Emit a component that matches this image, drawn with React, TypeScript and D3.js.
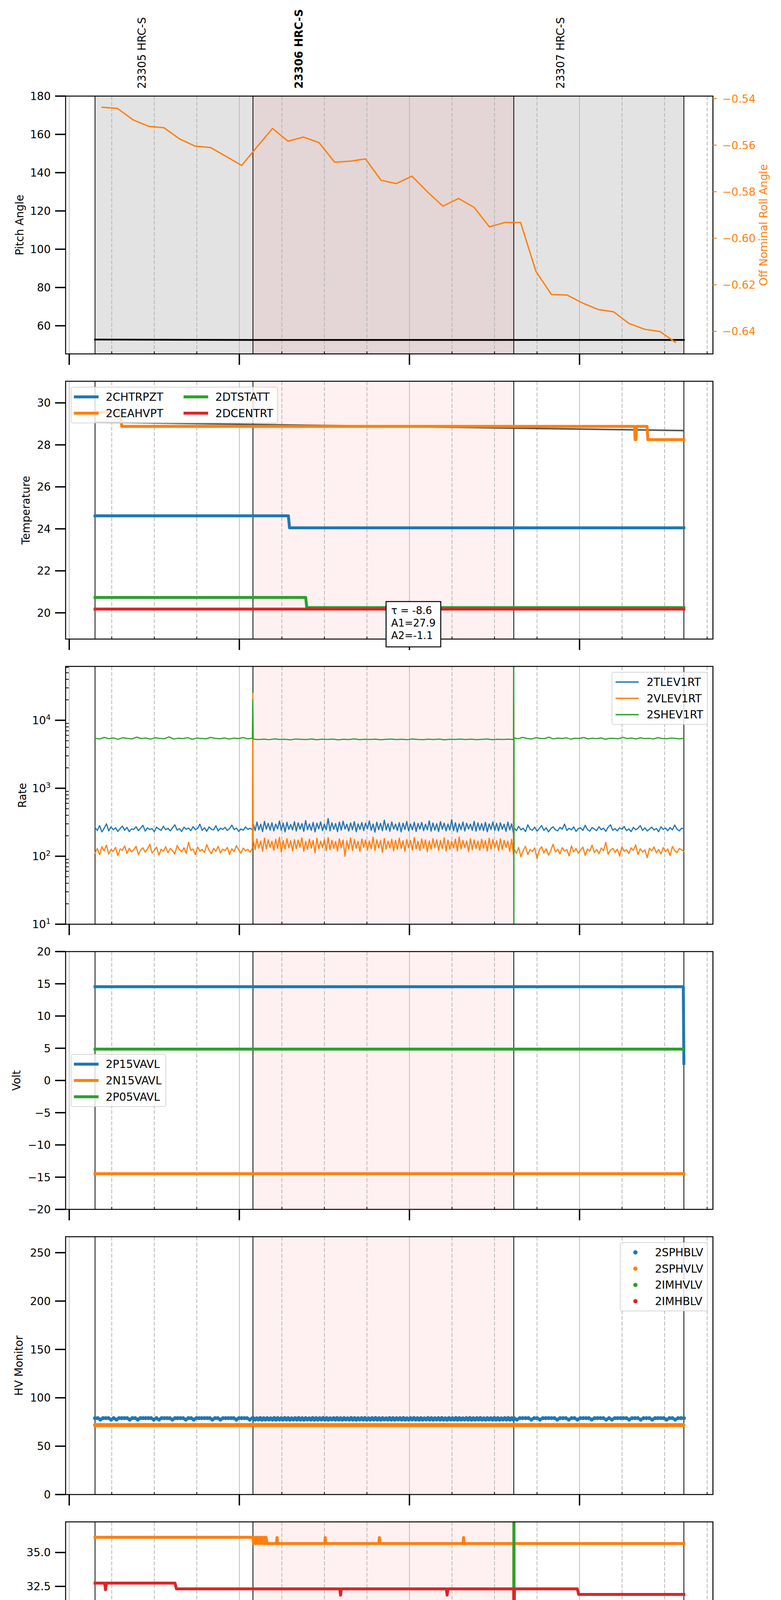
import React from "react";
import * as d3 from "d3";

// ================= DATA =================
const obsNames = ["23305 HRC-S", "23306 HRC-S", "23307 HRC-S"];
const obsBold = [false, true, false];
const obsLabelMin = [25.6, 81.0, 173.3];
const obsEdgesMin = [9.1, 64.8, 156.8, 216.8];
const focusSpanMin = [64.8, 156.8];

// Panel 1: pitch / roll
const pitchMin = [9.1, 64.8, 216.8];
const pitchVal = [52.8, 52.6, 52.6];
const rollMin = [11.6, 17.0, 22.5, 28.0, 33.4, 38.9, 44.4, 49.8, 55.3, 60.8, 66.2, 71.7, 77.2, 82.6, 88.1, 93.6, 99.0, 104.5, 110.0, 115.4, 120.9, 126.4, 131.8, 137.3, 142.8, 148.2, 153.7, 159.2, 164.6, 170.1, 175.6, 181.0, 186.5, 192.0, 197.4, 202.9, 208.4, 213.8];
const rollVal = [-0.5437, -0.5442, -0.5491, -0.5519, -0.5525, -0.5573, -0.5604, -0.561, -0.5648, -0.5687, -0.5608, -0.5528, -0.5583, -0.5565, -0.5589, -0.5673, -0.5669, -0.5659, -0.5751, -0.5765, -0.5733, -0.5801, -0.5862, -0.5829, -0.5867, -0.5951, -0.5932, -0.5932, -0.6142, -0.6242, -0.6244, -0.6278, -0.6306, -0.6316, -0.6366, -0.6391, -0.6401, -0.6447];
const pitchTicks = [60, 80, 100, 120, 140, 160, 180];
const rollTicks = [-0.64, -0.62, -0.6, -0.58, -0.56, -0.54];

// Panel 2: temperature
const tempNames = ["2CHTRPZT", "2CEAHVPT", "2DTSTATT", "2DCENTRT"];
const tBlueMin = [9.1, 77.3, 77.7, 216.8];
const tBlueVal = [24.62, 24.62, 24.05, 24.05];
const tOrangeMin = [9.1, 18.1, 18.5, 199.4, 199.6, 199.9, 200.1, 203.8, 204.1, 216.8];
const tOrangeVal = [29.55, 29.55, 28.88, 28.88, 28.25, 28.25, 28.88, 28.88, 28.25, 28.25];
const tGreenMin = [9.1, 83.4, 83.8, 216.8];
const tGreenVal = [20.73, 20.73, 20.25, 20.25];
const tRedMin = [9.1, 216.8];
const tRedVal = [20.18, 20.18];
const tModelMin = [9.1, 216.8];
const tModelVal = [29.08, 28.68];
const tempTicks = [20, 22, 24, 26, 28, 30];
const fitText = ["τ = -8.6", "A1=27.9", "A2=-1.1"];
const fitBoxMin = 121.4;

// Panel 3: rates
const rateNames = ["2TLEV1RT", "2VLEV1RT", "2SHEV1RT"];
const rateBlueA = [265, 240, 282, 228, 258, 300, 236, 270, 245, 262, 232, 255, 278, 241, 266, 230, 252, 248, 271, 238, 259, 285, 234, 262, 247, 256, 229, 268, 252, 240, 276, 245, 258, 236, 263, 290, 242, 255, 231, 268, 249, 260, 238, 272, 245, 257, 296, 240, 262, 233, 270, 250, 244, 281, 236, 258, 248, 266, 239, 255, 287, 246, 260, 232, 252, 241, 270, 248, 258, 244];
const rateBlueB = [300, 238, 318, 245, 296, 230, 325, 250, 305, 242, 312, 236, 298, 252, 330, 240, 308, 228, 316, 248, 294, 244, 322, 235, 310, 250, 302, 232, 335, 246, 299, 240, 315, 228, 306, 253, 320, 238, 297, 245, 360, 236, 311, 249, 303, 230, 318, 242, 328, 251, 296, 234, 309, 245, 323, 229, 300, 248, 314, 238, 306, 252, 331, 240, 298, 226, 317, 246, 305, 237, 340, 244, 301, 233, 320, 250, 297, 239, 312, 228, 308, 247, 325, 236, 299, 244, 318, 231, 304, 250, 315, 238, 296, 245, 332, 234, 309, 242, 301, 230, 322, 249, 307, 236, 298, 244, 345, 238, 311, 227, 300, 246, 319, 235, 306, 251, 297, 240, 326, 233, 310, 243, 302, 238, 316, 229, 299, 247, 320, 240, 305, 236, 311, 249, 296, 232, 318, 244, 300, 215];
const rateBlueC = [262, 238, 275, 244, 258, 230, 290, 250, 241, 268, 235, 256, 283, 240, 262, 228, 254, 271, 245, 236, 266, 250, 297, 239, 258, 244, 270, 232, 255, 262, 240, 286, 247, 234, 264, 251, 238, 272, 245, 259, 232, 268, 290, 241, 255, 236, 262, 249, 274, 238, 253, 230, 266, 245, 258, 282, 240, 262, 235, 250, 268, 243, 256, 229, 271, 248, 260, 237, 265, 244, 288, 250, 236, 258, 252];
const rateOrangeA = [112, 130, 105, 138, 120, 145, 108, 126, 118, 135, 102, 128, 122, 142, 110, 131, 116, 125, 140, 106, 124, 133, 115, 128, 150, 112, 122, 136, 104, 127, 119, 138, 113, 130, 121, 108, 144, 125, 117, 133, 110, 160, 122, 128, 105, 137, 119, 126, 114, 148, 123, 109, 131, 118, 140, 112, 127, 121, 135, 106, 129, 117, 143, 124, 111, 132, 120, 126, 115, 130];
const rateOrangeB = [172, 125, 180, 132, 168, 118, 185, 128, 175, 135, 166, 122, 178, 130, 190, 115, 170, 127, 182, 133, 169, 120, 176, 129, 173, 136, 187, 118, 165, 126, 179, 131, 171, 112, 184, 128, 167, 134, 176, 121, 188, 125, 172, 130, 165, 119, 181, 133, 174, 100, 169, 128, 186, 122, 177, 131, 166, 117, 180, 135, 173, 124, 168, 129, 191, 121, 175, 133, 170, 114, 183, 127, 167, 132, 178, 120, 172, 126, 185, 130, 169, 118, 176, 134, 171, 123, 189, 128, 166, 121, 180, 131, 174, 116, 168, 127, 182, 133, 175, 122, 170, 129, 187, 119, 173, 126, 165, 132, 179, 120, 192, 128, 171, 134, 168, 117, 181, 125, 174, 130, 167, 122, 178, 131, 170, 119, 184, 127, 176, 133, 169, 121, 180, 126, 172, 135, 166, 118, 178, 105];
const rateOrangeC = [128, 110, 135, 98, 122, 140, 106, 126, 117, 133, 92, 124, 138, 112, 129, 104, 121, 150, 115, 127, 108, 134, 119, 125, 101, 142, 116, 130, 111, 124, 136, 103, 128, 119, 145, 113, 126, 109, 132, 121, 160, 107, 123, 131, 114, 127, 100, 138, 118, 125, 110, 133, 122, 147, 106, 129, 115, 124, 95, 131, 120, 137, 112, 126, 108, 134, 117, 128, 102, 139, 121, 113, 130, 124, 118];
const rateGreenA = [5450, 5300, 5600, 5350, 5500, 5250, 5550, 5400, 5320, 5650, 5380, 5480, 5280, 5520, 5420, 5350, 5700, 5300, 5460, 5380, 5550, 5260, 5480, 5400, 5330, 5600, 5420, 5350, 5500, 5290, 5470, 5380, 5560, 5320, 5430];
const rateGreenB = [5300, 5200, 5280, 5180, 5320, 5220, 5260, 5150, 5300, 5240, 5200, 5310, 5170, 5270, 5230, 5290, 5160, 5250, 5210, 5330, 5190, 5260, 5220, 5280, 5170, 5240, 5300, 5200, 5260, 5180, 5310, 5230, 5190, 5270, 5210, 5290, 5160, 5250, 5220, 5300, 5200, 5270, 5180, 5240, 5310, 5190, 5260, 5220, 5280, 5200];
const rateGreenC = [5500, 5350, 5600, 5400, 5300, 5550, 5420, 5380, 5650, 5320, 5470, 5390, 5520, 5280, 5450, 5400, 5580, 5330, 5460, 5370, 5500, 5260, 5440, 5410, 5350, 5600, 5390, 5470, 5310, 5520, 5380, 5430, 5300, 5560, 5400, 5350, 5480, 5420, 5330, 5450];
const rateSpikeMin = [64.75, 156.8];
const rateSpikeOrange = [25000, 18000];
const rateSpikeGreen = [20000, 1e6];
const rateGreenDropVal = 1;
const rateMajor = [10, 100, 1000, 10000];

// Panel 4: volt
const voltNames = ["2P15VAVL", "2N15VAVL", "2P05VAVL"];
const vBlueMin = [9.1, 216.6, 216.8];
const vBlueVal = [14.55, 14.55, 2.65];
const vOrangeMin = [9.1, 216.8];
const vOrangeVal = [-14.47, -14.47];
const vGreenMin = [9.1, 216.8];
const vGreenVal = [4.87, 4.87];
const voltTicks = [-20, -15, -10, -5, 0, 5, 10, 15, 20];

// Panel 5: HV monitor
const hvNames = ["2SPHBLV", "2SPHVLV", "2IMHVLV", "2IMHBLV"];
const hvBlueA = [79, 79, 77.5, 79, 79, 79, 77.5, 79, 77.5, 79, 79, 79, 79, 77.5, 79, 79, 77.5, 79, 79, 79, 79, 79, 77.5, 79, 77.5, 79, 79, 79, 79, 77.5, 79, 79, 79, 79, 77.5, 79, 79, 77.5, 79, 79, 79, 79, 79, 79, 77.5, 79, 79, 77.5, 79, 79, 79, 79, 79, 77.5, 79, 79, 79, 79, 77.5, 79];
const hvBlueB = [79, 77.5, 78.8, 77.6, 79.1, 77.4, 78.9, 77.5, 79, 77.6, 78.8, 77.5, 79.1, 77.4, 79, 77.6, 78.9, 77.5, 79.1, 77.5, 79, 77.4, 78.8, 77.6, 79, 77.5, 79.1, 77.5, 78.9, 77.4, 79, 77.6, 78.8, 77.5, 79.1, 77.4, 79, 77.5, 78.9, 77.6, 79.1, 77.5, 79, 77.4, 78.8, 77.6, 79, 77.5, 79.1, 77.5, 78.9, 77.4, 79, 77.6, 78.8, 77.5, 79.1, 77.5, 79, 77.4, 78.9, 77.6, 79, 77.5, 79.1, 77.4, 78.8, 77.5, 79, 77.6, 79.1, 77.5, 78.9, 77.4, 79, 77.6, 78.8, 77.5, 79.1, 77.5, 79, 77.4, 78.9, 77.6, 79, 77.5, 79.1, 77.4, 78.8, 77.5, 79, 77.6, 79.1, 77.5, 78.9, 77.4, 79, 77.5, 78.8, 77.6, 79.1, 77.5, 79, 77.4, 78.9, 77.6, 79, 77.5, 79.1, 77.5, 78.8, 77.4, 79, 77.6, 78.9, 77.5, 79.1, 77.4, 79, 77.5, 78.8, 77.6, 79, 77.5, 79.1, 77.4, 78.9, 77.5, 79, 77.6, 79.1, 77.5, 78.8, 77.4, 79, 77.6, 78.9, 77.5, 79.1, 77.5, 79, 77.4, 78.8, 77.6, 79, 77.5, 79.1, 77.5, 78.9, 77.5];
const hvBlueC = [79, 77.5, 79, 79, 79, 79, 77.5, 79, 79, 77.5, 79, 79, 79, 79, 79, 77.5, 79, 79, 79, 77.5, 79, 79, 77.5, 79, 79, 79, 79, 77.5, 79, 79, 79, 79, 77.5, 79, 77.5, 79, 79, 79, 79, 79, 77.5, 79, 79, 79, 77.5, 79, 79, 79, 77.5, 79, 79, 79, 79, 77.5, 79, 79, 77.5, 79, 79, 79];
const hvSphvlvLevel = 71.8;
const hvCadenceMin = 0.5;
const hvTicks = [0, 50, 100, 150, 200, 250];

// Panel 6: detector temp
const detNames = ["2SPINATM", "2SPHVATM", "2IMINATM", "2IMHVATM"];
const detBlueMin = [9.1, 216.8];
const detBlueVal = [20.99, 20.99];
const detOrangeMin = [9.1, 64.8, 65.0, 65.4, 65.8, 66.2, 66.6, 67.0, 67.4, 67.8, 68.2, 68.6, 69.0, 69.4, 69.8, 70.1, 73.1, 73.3, 73.5, 90.1, 90.3, 90.5, 109.2, 109.4, 109.6, 138.9, 139.1, 139.3, 156.8, 156.85, 156.9, 216.8];
const detOrangeVal = [36.12, 36.12, 35.66, 36.12, 35.66, 36.12, 35.66, 36.12, 35.66, 36.12, 35.66, 36.12, 35.66, 36.12, 35.66, 35.66, 35.66, 36.1, 35.66, 35.66, 36.1, 35.66, 35.66, 36.1, 35.66, 35.66, 36.1, 35.66, 35.66, 10, 35.66, 35.66];
const detGreenMin = [9.1, 156.8, 156.85, 156.9, 216.8];
const detGreenVal = [19.61, 19.61, 45, 19.61, 19.61];
const detRedMin = [9.1, 12.5, 12.8, 13.1, 37.3, 37.8, 95.4, 95.7, 96.0, 133.0, 133.3, 133.6, 156.75, 156.9, 157.05, 179.2, 179.7, 216.8];
const detRedVal = [32.74, 32.74, 32.25, 32.74, 32.74, 32.32, 32.32, 31.86, 32.32, 32.32, 31.86, 32.32, 32.32, 29.1, 32.32, 32.32, 31.91, 31.91];
const detTicks = [20, 22.5, 25, 27.5, 30, 32.5, 35];

// Panel 7: FEA temp
const feaNames = ["2FHTRMZT", "2FRADPYT", "2FEPRATM", "2FE00ATM"];
const feaBlueMin = [9.1, 23.3, 23.5, 23.7, 103.0, 103.5, 165.7, 165.9, 166.1, 201.5, 201.9, 209.2, 209.4, 209.6, 216.8];
const feaBlueVal = [22.35, 22.35, 22.0, 22.35, 22.35, 21.81, 21.81, 22.95, 21.81, 21.81, 21.26, 21.26, 21.85, 21.26, 21.26];
const feaOrangeMin = [9.1, 73.2, 73.6, 132.0, 132.4, 216.8];
const feaOrangeVal = [17.63, 17.63, 17.15, 17.15, 16.66, 16.66];
const feaGreenMin = [9.1, 9.5, 9.9, 10.3, 10.7, 11.1, 11.5, 12.0, 12.4, 12.8, 146.7, 146.9, 147.1, 153.8, 154.1, 154.4, 154.7, 155.0, 155.3, 156.85, 156.9, 156.95, 216.8];
const feaGreenVal = [25.41, 24.62, 25.41, 24.62, 25.41, 24.62, 25.41, 25.41, 25.41, 24.62, 24.62, 23.85, 24.62, 24.62, 23.87, 24.62, 23.87, 24.62, 23.87, 23.87, 30, 23.87, 23.87];
const feaRedMin = [9.1, 27.2, 27.6, 70.8, 71.0, 71.2, 106.8, 107.2, 108.2, 108.4, 108.6, 130.5, 130.7, 130.9, 146.7, 146.9, 147.1, 150.2, 150.4, 150.6, 151.6, 151.8, 152.0, 152.2, 156.8, 156.9, 157.0, 168.0, 168.3, 168.6, 169.5, 169.9, 216.8];
const feaRedVal = [22.35, 22.35, 22.01, 22.01, 22.35, 22.01, 22.01, 21.71, 21.71, 22.05, 21.71, 21.71, 21.38, 21.71, 21.71, 21.05, 21.71, 21.71, 22.05, 21.71, 21.71, 22.35, 21.35, 21.71, 21.71, 10, 21.71, 21.71, 21.35, 21.75, 21.75, 21.39, 21.39];
const feaTicks = [16, 18, 20, 22, 24, 26];

const xLabelText = "2020-07-07 (189)";

// ================= LAYOUT / STYLE =================
const FONT = "'DejaVu Sans', 'Liberation Sans', sans-serif";
const FS = 27.8;
const COL = { blue: "#1f77b4", orange: "#ff7f0e", green: "#2ca02c", red: "#d62728" };
const L = 168, R = 1825.7, TOP0 = 246, STEP = 730, PH = 660;
const GRID = "#b0b0b0";

const BASE = Date.UTC(2020, 6, 7, 11, 0, 0);
const tm = (m: number) => new Date(BASE + m * 60000);
const XMIN = -1.28, XMAX = 227.05;
const x = d3.scaleUtc().domain([tm(XMIN), tm(XMAX)]).range([L, R]);
const X = (m: number) => x(tm(m));
const hourTicks = d3.utcHour.range(tm(XMIN), tm(XMAX));
const quarterTicks = d3.utcMinute.every(15)!.range(tm(XMIN), tm(XMAX)).filter((d) => d.getUTCMinutes() !== 0);

type Pt = [number, number];
const zip = (ts: number[], vs: number[]): Pt[] => ts.map((tt, i) => [tt, vs[i]] as Pt);
const spread = (vs: number[], t0: number, t1: number): Pt[] =>
  vs.map((v, i) => [t0 + ((t1 - t0) * i) / (vs.length - 1), v] as Pt);

const topOf = (i: number) => TOP0 + i * STEP;

let _ctx: any;
function textWidth(s: string, size: number) {
  if (_ctx === undefined) {
    try { _ctx = document.createElement("canvas").getContext("2d"); } catch (e) { _ctx = null; }
  }
  if (_ctx) { _ctx.font = `${size}px 'DejaVu Sans'`; return _ctx.measureText(s).width; }
  return s.length * size * 0.65;
}

function pathOf(pts: Pt[], ys: (v: number) => number) {
  return d3.line<Pt>().x((d) => X(d[0])).y((d) => ys(d[1]))(pts) || "";
}

function Series({ pts, ys, color, w }: { pts: Pt[]; ys: any; color: string; w: number }) {
  return <path d={pathOf(pts, ys)} fill="none" stroke={color} strokeWidth={w} strokeLinejoin="round" strokeLinecap="square" />;
}

function PanelBase({ i, gray }: { i: number; gray?: boolean }) {
  const top = topOf(i);
  return (
    <g>
      {gray && <rect x={X(obsEdgesMin[0])} y={top} width={X(obsEdgesMin[3]) - X(obsEdgesMin[0])} height={PH} fill="#e3e3e3" />}
      <rect x={X(focusSpanMin[0])} y={top} width={X(focusSpanMin[1]) - X(focusSpanMin[0])} height={PH} fill="rgb(255,0,0)" fillOpacity={0.055} />
      {hourTicks.map((d, k) => (
        <line key={"h" + k} x1={x(d)} x2={x(d)} y1={top} y2={top + PH} stroke={GRID} strokeWidth={1.6} />
      ))}
      {quarterTicks.map((d, k) => (
        <line key={"q" + k} x1={x(d)} x2={x(d)} y1={top} y2={top + PH} stroke={GRID} strokeWidth={1.8} strokeDasharray="10,4.5" />
      ))}
      {obsEdgesMin.map((m, k) => (
        <line key={"o" + k} x1={X(m)} x2={X(m)} y1={top} y2={top + PH} stroke="black" strokeWidth={2} />
      ))}
    </g>
  );
}

function PanelAxes({ i, ys, ticks, fmt, ylabel, ylabelX, logMinor, xLabels }: any) {
  const top = topOf(i), bot = top + PH;
  return (
    <g>
      <rect x={L} y={top} width={R - L} height={PH} fill="none" stroke="black" strokeWidth={2.5} />
      {ticks.map((v: number, k: number) => (
        <g key={"yt" + k}>
          <line x1={L - 27} x2={L} y1={ys(v)} y2={ys(v)} stroke="black" strokeWidth={3.5} />
          {fmt(v, L - 38, ys(v), k)}
        </g>
      ))}
      {logMinor && logMinor.map((v: number, k: number) => (
        <line key={"lm" + k} x1={L} x2={L + 8} y1={ys(v)} y2={ys(v)} stroke="black" strokeWidth={2} />
      ))}
      {hourTicks.map((d, k) => (
        <line key={"xt" + k} x1={x(d)} x2={x(d)} y1={bot} y2={bot + 28} stroke="black" strokeWidth={3.5} />
      ))}
      {quarterTicks.map((d, k) => (
        <line key={"xq" + k} x1={x(d)} x2={x(d)} y1={bot} y2={bot - 6.5} stroke="black" strokeWidth={2} />
      ))}
      {xLabels && hourTicks.map((d, k) => (
        <text key={"xl" + k} x={x(d)} y={bot + 63} textAnchor="middle" fontSize={FS}>{d.getUTCHours() + "h"}</text>
      ))}
      {xLabels && quarterTicks.map((d, k) => (
        <text key={"xql" + k} x={x(d)} y={bot + 26} textAnchor="middle" fontSize={18}>{String(d.getUTCMinutes())}</text>
      ))}
      <text transform={`translate(${ylabelX},${(top + bot) / 2}) rotate(-90)`} textAnchor="middle" dy="0.35em" fontSize={FS}>{ylabel}</text>
    </g>
  );
}

const plainFmt = (f: (v: number) => string) => (v: number, xx: number, yy: number) => (
  <text x={xx} y={yy} dy="0.36em" textAnchor="end" fontSize={FS}>{f(v)}</text>
);
const minus = (s: string) => s.replace("-", "\u2212");

function Legend({ names, colors, loc, i, ncol = 1, lw = 7.5, marker = false }: any) {
  const top = topOf(i);
  const pad = 11, hl = 55.6, hp = 22.2, cs = 55.6, rowH = 28, pitch = 41.7;
  const n = names.length;
  const nrows = Math.ceil(n / ncol);
  const cols = d3.range(ncol).map((c) => d3.range(c * nrows, Math.min(n, (c + 1) * nrows)));
  const colW = cols.map((col) => hl + hp + (d3.max(col, (j: number) => textWidth(names[j], FS)) || 0));
  const bw = 2 * pad + d3.sum(colW) + (ncol - 1) * cs;
  const bh = 2 * pad + nrows * rowH + (nrows - 1) * (pitch - rowH);
  const bx = loc.includes("left") ? L + 14 : R - 14 - bw;
  const by = loc.startsWith("upper") ? top + 15 : top + (PH - bh) / 2;
  let cx = bx + pad;
  const items: any[] = [];
  cols.forEach((col, c) => {
    col.forEach((j: number, r: number) => {
      const cy = by + pad + rowH / 2 + r * pitch;
      items.push(
        <g key={j}>
          {marker ? (
            <circle cx={cx + hl / 2} cy={cy} r={5.5} fill={colors[j]} />
          ) : (
            <line x1={cx} x2={cx + hl} y1={cy} y2={cy} stroke={colors[j]} strokeWidth={lw} strokeLinecap="square" />
          )}
          <text x={cx + hl + hp} y={cy} dy="0.36em" fontSize={FS}>{names[j]}</text>
        </g>
      );
    });
    cx += colW[c] + cs;
  });
  return (
    <g>
      <rect x={bx} y={by} width={bw} height={bh} rx={5} fill="white" fillOpacity={0.8} stroke="#cccccc" strokeOpacity={0.8} strokeWidth={2} />
      {items}
    </g>
  );
}

function Clip({ i, children }: any) {
  return <g clipPath={`url(#clip${i})`}>{children}</g>;
}

export default function App() {
  const bots = d3.range(7).map((i) => topOf(i) + PH);
  const y0 = d3.scaleLinear().domain([45.3, 180]).range([bots[0], topOf(0)]);
  const yR = d3.scaleLinear().domain([-0.6497, -0.5389]).range([bots[0], topOf(0)]);
  const y1 = d3.scaleLinear().domain([18.75, 31.03]).range([bots[1], topOf(1)]);
  const y2 = d3.scaleLog().domain([10, 62000]).range([bots[2], topOf(2)]);
  const y3 = d3.scaleLinear().domain([-20, 20]).range([bots[3], topOf(3)]);
  const y4 = d3.scaleLinear().domain([0, 266.5]).range([bots[4], topOf(4)]);
  const y5 = d3.scaleLinear().domain([18.24, 37.26]).range([bots[5], topOf(5)]);
  const y6 = d3.scaleLinear().domain([15.23, 26.17]).range([bots[6], topOf(6)]);

  const logMinor: number[] = [];
  rateMajor.forEach((d) => d3.range(2, 10).forEach((k) => { if (k * d <= 62000) logMinor.push(k * d); }));

  const rateBlue: Pt[] = [...spread(rateBlueA, 9.1, 64.6), ...spread(rateBlueB, 64.9, 156.7), ...spread(rateBlueC, 156.9, 216.8)];
  const rateOrange: Pt[] = [...spread(rateOrangeA, 9.1, 64.6), [rateSpikeMin[0], rateSpikeOrange[0]], ...spread(rateOrangeB, 64.9, 156.7), [rateSpikeMin[1], rateSpikeOrange[1]], ...spread(rateOrangeC, 156.9, 216.8)];
  const rateGreen: Pt[] = [...spread(rateGreenA, 9.1, 64.6), [rateSpikeMin[0], rateSpikeGreen[0]], ...spread(rateGreenB, 64.9, 156.7), [rateSpikeMin[1], rateSpikeGreen[1]], [rateSpikeMin[1] + 0.03, rateGreenDropVal], ...spread(rateGreenC, 156.9, 216.8)];

  const hvBlue: Pt[] = [...spread(hvBlueA, 9.1, 64.6), ...spread(hvBlueB, 64.9, 156.7), ...spread(hvBlueC, 156.9, 216.8)];
  const hvOrange: Pt[] = d3.range(obsEdgesMin[0], obsEdgesMin[3] + 0.01, hvCadenceMin).map((m) => [m, hvSphvlvLevel] as Pt);

  const bot1 = bots[1];
  const fitW = d3.max(fitText, (s) => textWidth(s, 26))! + 26;
  const fitX = X(fitBoxMin) - fitW / 2;
  const fitY = bot1 - 96;

  const colors4 = [COL.blue, COL.orange, COL.green, COL.red];

  return (
    <div style={{ width: 2000, height: 5400, overflow: "hidden" }}>
      <style>{"html,body{margin:0;padding:0;background:#fff;}"}</style>
      <svg width={2000} height={5400} viewBox="0 0 2000 5400" style={{ display: "block", fontFamily: FONT }}>
        <rect width={2000} height={5400} fill="white" />
        <defs>
          {d3.range(7).map((i) => (
            <clipPath id={`clip${i}`} key={i}>
              <rect x={L} y={topOf(i)} width={R - L} height={PH} />
            </clipPath>
          ))}
        </defs>

        {obsNames.map((s, k) => (
          <text key={"obs" + k} transform={`translate(${X(obsLabelMin[k])},227) rotate(-90)`} dy="0.35em" fontSize={FS} fontWeight={obsBold[k] ? "bold" : "normal"}>{s}</text>
        ))}

        {/* ===== Panel 0: Pitch / Roll ===== */}
        <PanelBase i={0} gray />
        <Clip i={0}>
          <Series pts={zip(pitchMin, pitchVal)} ys={y0} color="black" w={4.5} />
          <Series pts={zip(rollMin, rollVal)} ys={yR} color={COL.orange} w={3.5} />
        </Clip>
        <PanelAxes i={0} ys={y0} ticks={pitchTicks} fmt={plainFmt((v) => String(v))} ylabel="Pitch Angle" ylabelX={50} />
        {rollTicks.map((v, k) => (
          <g key={"rt" + k}>
            <line x1={R} x2={R + 9.5} y1={yR(v)} y2={yR(v)} stroke={COL.orange} strokeWidth={2.5} />
            <text x={R + 24} y={yR(v)} dy="0.36em" fontSize={FS} fill={COL.orange}>{minus(v.toFixed(2))}</text>
          </g>
        ))}
        <text transform={`translate(1955,${(topOf(0) + bots[0]) / 2}) rotate(-90)`} textAnchor="middle" dy="0.35em" fontSize={FS} fill={COL.orange}>Off Nominal Roll Angle</text>

        {/* ===== Panel 1: Temperature ===== */}
        <PanelBase i={1} />
        <Clip i={1}>
          <path d={pathOf(zip(tModelMin, tModelVal), y1)} fill="none" stroke="#444" strokeOpacity={0.9} strokeWidth={4} />
          <Series pts={zip(tBlueMin, tBlueVal)} ys={y1} color={COL.blue} w={7.5} />
          <Series pts={zip(tOrangeMin, tOrangeVal)} ys={y1} color={COL.orange} w={7.5} />
          <Series pts={zip(tGreenMin, tGreenVal)} ys={y1} color={COL.green} w={7.5} />
          <Series pts={zip(tRedMin, tRedVal)} ys={y1} color={COL.red} w={7.5} />
        </Clip>
        <PanelAxes i={1} ys={y1} ticks={tempTicks} fmt={plainFmt((v) => String(v))} ylabel="Temperature" ylabelX={66} />
        <Legend i={1} names={tempNames} colors={colors4} loc="upper left" ncol={2} />
        <g>
          <rect x={fitX} y={fitY} width={fitW} height={116} fill="white" stroke="black" strokeWidth={2.5} />
          {fitText.map((s, k) => (
            <text key={"fit" + k} x={fitX + 13} y={fitY + 31.7 + k * 32.3} fontSize={26}>{s}</text>
          ))}
        </g>

        {/* ===== Panel 2: Rate ===== */}
        <PanelBase i={2} />
        <Clip i={2}>
          <Series pts={rateBlue} ys={y2} color={COL.blue} w={3} />
          <Series pts={rateOrange} ys={y2} color={COL.orange} w={3} />
          <Series pts={rateGreen} ys={y2} color={COL.green} w={3} />
        </Clip>
        <PanelAxes i={2} ys={y2} ticks={rateMajor} logMinor={logMinor}
          fmt={(v: number, xx: number, yy: number) => (
            <text x={xx} y={yy} dy="0.36em" textAnchor="end" fontSize={FS}>10<tspan fontSize={19.5} dy="-0.55em">{String(Math.round(Math.log10(v)))}</tspan></text>
          )}
          ylabel="Rate" ylabelX={57} />
        <Legend i={2} names={rateNames} colors={[COL.blue, COL.orange, COL.green]} loc="upper right" lw={3.5} />

        {/* ===== Panel 3: Volt ===== */}
        <PanelBase i={3} />
        <Clip i={3}>
          <Series pts={zip(vBlueMin, vBlueVal)} ys={y3} color={COL.blue} w={7.5} />
          <Series pts={zip(vOrangeMin, vOrangeVal)} ys={y3} color={COL.orange} w={7.5} />
          <Series pts={zip(vGreenMin, vGreenVal)} ys={y3} color={COL.green} w={7.5} />
        </Clip>
        <PanelAxes i={3} ys={y3} ticks={voltTicks} fmt={plainFmt((v) => minus(String(v)))} ylabel="Volt" ylabelX={42} />
        <Legend i={3} names={voltNames} colors={[COL.blue, COL.orange, COL.green]} loc="center left" />

        {/* ===== Panel 4: HV Monitor ===== */}
        <PanelBase i={4} />
        <Clip i={4}>
          {hvBlue.map((d, k) => <circle key={"hb" + k} cx={X(d[0])} cy={y4(d[1])} r={5.2} fill={COL.blue} />)}
          {hvOrange.map((d, k) => <circle key={"ho" + k} cx={X(d[0])} cy={y4(d[1])} r={5.2} fill={COL.orange} />)}
        </Clip>
        <PanelAxes i={4} ys={y4} ticks={hvTicks} fmt={plainFmt((v) => String(v))} ylabel="HV Monitor" ylabelX={48} />
        <Legend i={4} names={hvNames} colors={colors4} loc="upper right" marker />

        {/* ===== Panel 5: Detector Temp ===== */}
        <PanelBase i={5} />
        <Clip i={5}>
          <Series pts={zip(detBlueMin, detBlueVal)} ys={y5} color={COL.blue} w={7.5} />
          <Series pts={zip(detOrangeMin, detOrangeVal)} ys={y5} color={COL.orange} w={7.5} />
          <Series pts={zip(detGreenMin, detGreenVal)} ys={y5} color={COL.green} w={7.5} />
          <Series pts={zip(detRedMin, detRedVal)} ys={y5} color={COL.red} w={7.5} />
        </Clip>
        <PanelAxes i={5} ys={y5} ticks={detTicks} fmt={plainFmt((v) => v.toFixed(1))} ylabel="Detector Temp" ylabelX={41} />
        <Legend i={5} names={detNames} colors={colors4} loc="center right" />

        {/* ===== Panel 6: FEA Temp ===== */}
        <PanelBase i={6} />
        <Clip i={6}>
          <Series pts={zip(feaBlueMin, feaBlueVal)} ys={y6} color={COL.blue} w={7.5} />
          <Series pts={zip(feaOrangeMin, feaOrangeVal)} ys={y6} color={COL.orange} w={7.5} />
          <Series pts={zip(feaGreenMin, feaGreenVal)} ys={y6} color={COL.green} w={7.5} />
          <Series pts={zip(feaRedMin, feaRedVal)} ys={y6} color={COL.red} w={7.5} />
        </Clip>
        <PanelAxes i={6} ys={y6} ticks={feaTicks} fmt={plainFmt((v) => String(v))} ylabel="FEA Temp" ylabelX={66} xLabels />
        <Legend i={6} names={feaNames} colors={colors4} loc="center left" />

        <text x={(L + R) / 2} y={bots[6] + 101} textAnchor="middle" fontSize={33.3}>{xLabelText}</text>
      </svg>
    </div>
  );
}
